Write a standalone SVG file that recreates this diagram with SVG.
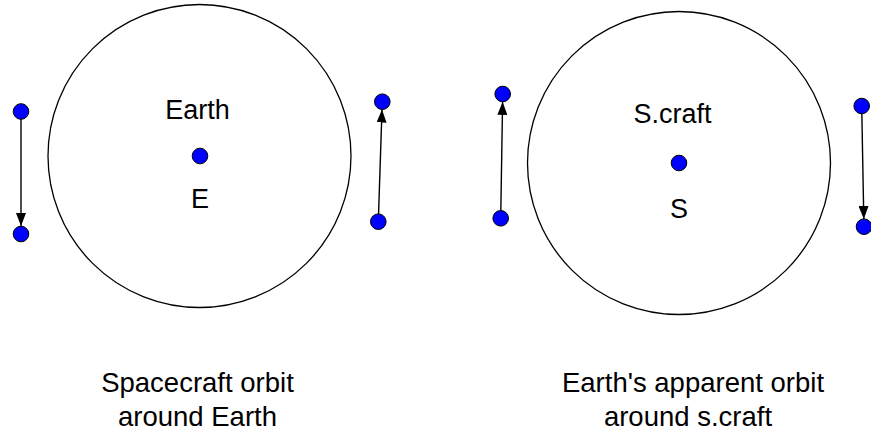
<svg xmlns="http://www.w3.org/2000/svg" width="871" height="434" viewBox="0 0 871 434">
<style>
.orbit{fill:none;stroke:#000;stroke-width:1.3}
.pt{fill:#0000ff;stroke:#000;stroke-width:1}
.ln{stroke:#000;stroke-width:1.4;fill:none}
text{font-family:"Liberation Sans",Arial,sans-serif;font-size:27.5px;fill:#000;text-anchor:middle}
.lbl{font-size:27px}
</style>
<defs>
<marker id="ah" viewBox="0 0 13 10" refX="13" refY="5" markerWidth="13" markerHeight="10" markerUnits="userSpaceOnUse" orient="auto">
<path d="M0,0 L13,5 L0,10 z" fill="#000"/>
</marker>
</defs>
<rect width="871" height="434" fill="#fff"/>
<g id="connectors">
<line class="ln" x1="21" y1="111.5" x2="21" y2="226" marker-end="url(#ah)"/>
<line class="ln" x1="378.3" y1="221.7" x2="382" y2="109.5" marker-end="url(#ah)"/>
<line class="ln" x1="500.7" y1="218.3" x2="502.6" y2="101.8" marker-end="url(#ah)"/>
<line class="ln" x1="861.7" y1="106" x2="863.8" y2="219" marker-end="url(#ah)"/>
</g>
<g id="earth-orbit">
<circle class="orbit" cx="199.5" cy="156" r="151.5"/>
</g>
<g id="earth-center">
<circle class="pt" cx="200" cy="156" r="7.8"/>
<text class="lbl" x="197.5" y="119">Earth</text>
<text class="lbl" x="200" y="208">E</text>
</g>
<g id="sc-left-top"><circle class="pt" cx="21" cy="111.5" r="7.8"/></g>
<g id="sc-left-bottom"><circle class="pt" cx="21" cy="234" r="7.8"/></g>
<g id="sc-right-top"><circle class="pt" cx="382.3" cy="101.7" r="7.8"/></g>
<g id="sc-right-bottom"><circle class="pt" cx="378.3" cy="221.7" r="7.8"/></g>
<g id="scraft-orbit">
<circle class="orbit" cx="679" cy="163" r="151.5"/>
</g>
<g id="scraft-center">
<circle class="pt" cx="679" cy="163" r="7.8"/>
<text class="lbl" x="672.5" y="123">S.craft</text>
<text class="lbl" x="679" y="218">S</text>
</g>
<g id="e-left-top"><circle class="pt" cx="502.7" cy="94" r="7.8"/></g>
<g id="e-left-bottom"><circle class="pt" cx="500.7" cy="218.3" r="7.8"/></g>
<g id="e-right-top"><circle class="pt" cx="861.7" cy="106" r="7.8"/></g>
<g id="e-right-bottom"><circle class="pt" cx="864" cy="226.7" r="7.8"/></g>
<g id="caption-left">
<text x="197.5" y="392">Spacecraft orbit</text>
<text x="197.5" y="426">around Earth</text>
</g>
<g id="caption-right">
<text x="693" y="392">Earth's apparent orbit</text>
<text x="688" y="426">around s.craft</text>
</g>
</svg>
